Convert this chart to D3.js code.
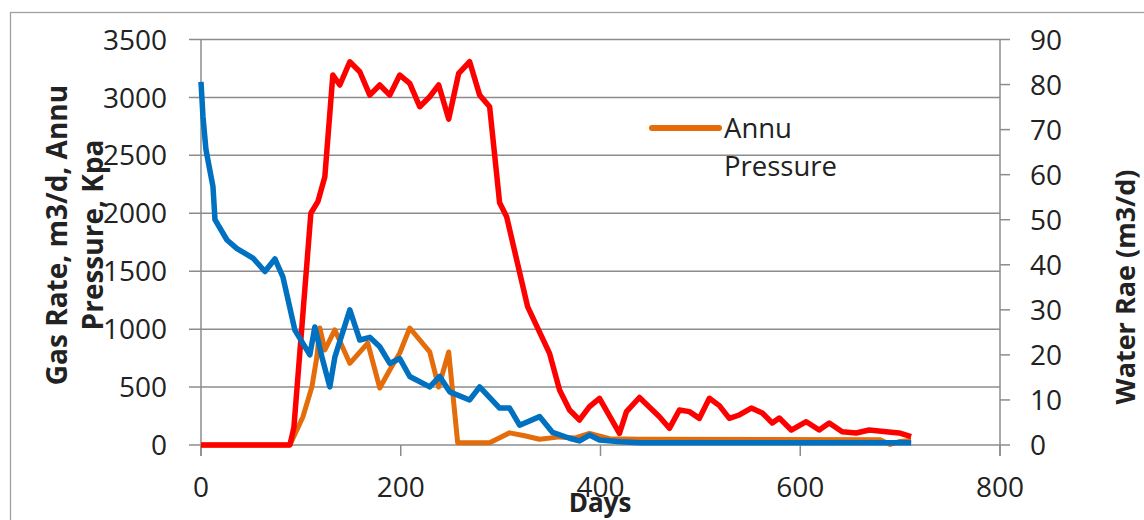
<!DOCTYPE html>
<html>
<head>
<meta charset="utf-8">
<script src="https://cdn.jsdelivr.net/npm/d3@7"></script>
<style>
  body { margin: 0; background: #fff; }
  text { font-family: "Open Sans", sans-serif; fill: #222; }
</style>
</head>
<body>
<svg id="chart"></svg>
<script>
const width = 1144;
const height = 520;

// Gas rate (m3/d), left axis
const gasDays = [0, 89, 93, 110, 117, 124, 132, 139, 149, 159, 169, 179, 189, 199, 209, 219, 229, 238, 248, 258, 269, 279, 289, 299, 306, 327, 349, 359, 369, 379, 389, 399, 419, 426, 439, 459, 469, 479, 489, 499, 509, 519, 529, 539, 551, 562, 572, 579, 591, 606, 619, 629, 642, 656, 669, 686, 699, 711];
const gasRate = [0, 0, 150, 2000, 2100, 2316, 3193, 3107, 3308, 3222, 3020, 3107, 3020, 3193, 3121, 2920, 3006, 3107, 2813, 3208, 3308, 3020, 2920, 2090, 1971, 1194, 791, 475, 302, 216, 331, 403, 101, 288, 410, 244, 144, 302, 288, 230, 403, 340, 230, 259, 319, 276, 190, 233, 129, 201, 129, 190, 115, 104, 129, 115, 104, 72];

// Annulus pressure (Kpa), left axis
const annuDays = [0, 89, 102, 111, 116, 119, 124, 134, 149, 167, 179, 189, 199, 209, 229, 238, 248, 257, 269, 289, 309, 324, 339, 359, 374, 389, 409, 440, 680, 690, 700, 711];
const annuPressure = [0, 0, 242, 500, 760, 1010, 820, 993, 705, 880, 492, 647, 794, 1010, 803, 500, 803, 20, 20, 20, 105, 80, 50, 70, 60, 100, 55, 50, 45, 5, 30, 40];

// Water rate (m3/d), right axis
const waterDays = [0, 2, 5, 12, 14, 26, 36, 52, 64, 74, 82, 94, 109, 114, 121, 129, 134, 149, 159, 169, 179, 189, 199, 209, 229, 239, 249, 269, 279, 299, 309, 319, 339, 352, 369, 379, 389, 399, 420, 440, 711];
const waterRate = [80.6, 72.8, 65.5, 57.3, 50, 45.5, 43.6, 41.5, 38.5, 41.3, 37.3, 25.5, 20, 26.2, 19.6, 12.9, 19.5, 30, 23.3, 23.9, 21.8, 18.1, 19.2, 15.2, 12.9, 15.2, 11.8, 10, 12.9, 8.2, 8.2, 4.4, 6.3, 2.8, 1.5, 0.9, 2.2, 1.1, 0.7, 0.5, 0.5];

const xTicks = [0, 200, 400, 600, 800];
const leftTicks = [0, 500, 1000, 1500, 2000, 2500, 3000, 3500];
const rightTicks = [0, 10, 20, 30, 40, 50, 60, 70, 80, 90];

const svg = d3.select("#chart").attr("width", width).attr("height", height);

const plot = { left: 201, right: 1000, top: 39.5, bottom: 445 };
const x = d3.scaleLinear().domain([0, 800]).range([plot.left, plot.right]);
const yL = d3.scaleLinear().domain([0, 3500]).range([plot.bottom, plot.top]);
const yR = d3.scaleLinear().domain([0, 90]).range([plot.bottom, plot.top]);

const gridColor = "#8c8c8c";

// chart area border
svg.append("rect").attr("x", 10.5).attr("y", 12.5).attr("width", 1200).attr("height", 600)
  .attr("fill", "none").attr("stroke", "#a0a0a0").attr("stroke-width", 1.3);

// gridlines + left axis ticks
svg.selectAll(".grid").data(leftTicks).enter().append("line").attr("class", "grid")
  .attr("x1", plot.left - 12).attr("x2", plot.right)
  .attr("y1", d => yL(d)).attr("y2", d => yL(d))
  .attr("stroke", gridColor).attr("stroke-width", 1.5);

// axis lines
svg.append("line").attr("x1", plot.left).attr("x2", plot.left).attr("y1", plot.top).attr("y2", plot.bottom + 11)
  .attr("stroke", gridColor).attr("stroke-width", 1.5);
svg.append("line").attr("x1", plot.right).attr("x2", plot.right).attr("y1", plot.top).attr("y2", plot.bottom + 11)
  .attr("stroke", gridColor).attr("stroke-width", 1.5);

// x ticks
svg.selectAll(".xtick").data(xTicks).enter().append("line").attr("class", "xtick")
  .attr("x1", d => x(d)).attr("x2", d => x(d)).attr("y1", plot.bottom).attr("y2", plot.bottom + 11)
  .attr("stroke", gridColor).attr("stroke-width", 1.5);

// right ticks
svg.selectAll(".rtick").data(rightTicks).enter().append("line").attr("class", "rtick")
  .attr("x1", plot.right).attr("x2", plot.right + 10)
  .attr("y1", d => yR(d)).attr("y2", d => yR(d))
  .attr("stroke", gridColor).attr("stroke-width", 1.5);

// tick labels
svg.selectAll(".ltl").data(leftTicks).enter().append("text").attr("class", "ltl")
  .attr("x", 167).attr("y", d => yL(d)).attr("dy", "0.36em")
  .attr("text-anchor", "end").style("font-size", "28px").text(d => d);
svg.selectAll(".rtl").data(rightTicks).enter().append("text").attr("class", "rtl")
  .attr("x", 1030).attr("y", d => yR(d)).attr("dy", "0.36em")
  .attr("text-anchor", "start").style("font-size", "28px").text(d => d);
svg.selectAll(".xtl").data(xTicks).enter().append("text").attr("class", "xtl")
  .attr("x", d => x(d)).attr("y", 497)
  .attr("text-anchor", "middle").style("font-size", "28px").text(d => d);

// axis titles
svg.append("text").attr("transform", "translate(67,235) rotate(-90)")
  .attr("text-anchor", "middle").style("font-size", "28px").style("font-weight", "bold")
  .text("Gas Rate, m3/d, Annu");
svg.append("text").attr("transform", "translate(103,235) rotate(-90)")
  .attr("text-anchor", "middle").style("font-size", "28px").style("font-weight", "bold")
  .text("Pressure, Kpa");
svg.append("text").attr("transform", "translate(1135,287) rotate(-90)")
  .attr("text-anchor", "middle").style("font-size", "27px").style("font-weight", "bold")
  .text("Water Rae (m3/d)");
svg.append("text").attr("x", 600).attr("y", 512)
  .attr("text-anchor", "middle").style("font-size", "26px").style("font-weight", "bold")
  .text("Days");

// series
const gas = gasDays.map((d, i) => [d, gasRate[i]]);
const annu = annuDays.map((d, i) => [d, annuPressure[i]]);
const water = waterDays.map((d, i) => [d, waterRate[i]]);

const lineL = d3.line().x(d => x(d[0])).y(d => yL(d[1]));
const lineR = d3.line().x(d => x(d[0])).y(d => yR(d[1]));

svg.append("path").datum(annu).attr("d", lineL).attr("fill", "none")
  .attr("stroke", "#E46C0A").attr("stroke-width", 5).attr("stroke-linejoin", "round");
svg.append("path").datum(gas).attr("d", lineL).attr("fill", "none")
  .attr("stroke", "#FF0000").attr("stroke-width", 5.5).attr("stroke-linejoin", "round");
svg.append("path").datum(water).attr("d", lineR).attr("fill", "none")
  .attr("stroke", "#0070C0").attr("stroke-width", 5.5).attr("stroke-linejoin", "round");

// legend
svg.append("line").attr("x1", 652).attr("x2", 719).attr("y1", 128).attr("y2", 128)
  .attr("stroke", "#E46C0A").attr("stroke-width", 6).attr("stroke-linecap", "round");
svg.append("text").attr("x", 724).attr("y", 138).style("font-size", "27.5px").text("Annu");
svg.append("text").attr("x", 724).attr("y", 176).style("font-size", "27.5px").text("Pressure");
</script>
</body>
</html>
